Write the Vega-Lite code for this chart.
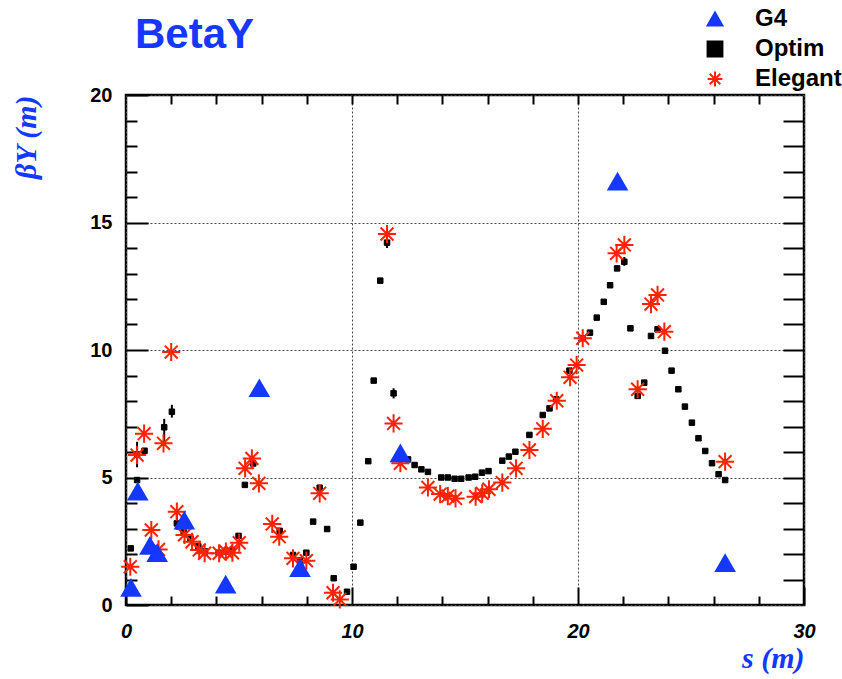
{
  "$schema": "https://vega.github.io/schema/vega-lite/v6.json",
  "autosize": {"type": "none"},
  "padding": {"left": 126, "top": 95, "right": 38, "bottom": 74},
  "width": 678,
  "height": 510,
  "background": "white",
  "title": {"text": "BetaY", "anchor": "start", "frame": "group", "font": "Liberation Sans", "fontWeight": "bold", "fontSize": 42, "color": "#1438ff", "offset": -50, "dx": 9},
  "config": {
    "view": {"stroke": "black", "strokeWidth": 2.5},
    "axis": {"domain": false, "tickColor": "black", "tickWidth": 2, "gridColor": "#444444", "gridDash": [2, 2], "gridWidth": 1, "labelColor": "black", "labelFont": "Liberation Sans", "labelFontWeight": "bold", "labelFontSize": 20, "labelFlush": false, "titleFont": "Liberation Serif", "titleFontStyle": "italic", "titleFontWeight": "bold", "titleFontSize": 30, "titleColor": "#1438ff"}
  },
  "datasets": {
    "optim": [
      {"series": "Optim", "s": 0.21, "b": 2.22},
      {"series": "Optim", "s": 0.49, "b": 4.90},
      {"series": "Optim", "s": 0.49, "b": 5.90},
      {"series": "Optim", "s": 0.82, "b": 6.05},
      {"series": "Optim", "s": 1.69, "b": 6.97},
      {"series": "Optim", "s": 2.03, "b": 7.58},
      {"series": "Optim", "s": 2.25, "b": 3.20},
      {"series": "Optim", "s": 2.55, "b": 2.85},
      {"series": "Optim", "s": 2.85, "b": 2.60},
      {"series": "Optim", "s": 3.20, "b": 2.30},
      {"series": "Optim", "s": 3.50, "b": 2.10},
      {"series": "Optim", "s": 4.10, "b": 2.05},
      {"series": "Optim", "s": 4.40, "b": 2.10},
      {"series": "Optim", "s": 4.70, "b": 2.15},
      {"series": "Optim", "s": 4.98, "b": 2.71},
      {"series": "Optim", "s": 5.26, "b": 4.71},
      {"series": "Optim", "s": 5.63, "b": 5.55},
      {"series": "Optim", "s": 6.80, "b": 2.91},
      {"series": "Optim", "s": 7.39, "b": 1.96},
      {"series": "Optim", "s": 7.69, "b": 1.76},
      {"series": "Optim", "s": 7.98, "b": 2.05},
      {"series": "Optim", "s": 8.28, "b": 3.27},
      {"series": "Optim", "s": 8.57, "b": 4.60},
      {"series": "Optim", "s": 8.90, "b": 2.98},
      {"series": "Optim", "s": 9.19, "b": 1.05},
      {"series": "Optim", "s": 9.78, "b": 0.52},
      {"series": "Optim", "s": 10.07, "b": 1.50},
      {"series": "Optim", "s": 10.37, "b": 3.23},
      {"series": "Optim", "s": 10.72, "b": 5.64},
      {"series": "Optim", "s": 10.96, "b": 8.80},
      {"series": "Optim", "s": 11.25, "b": 12.72},
      {"series": "Optim", "s": 11.55, "b": 14.21},
      {"series": "Optim", "s": 11.84, "b": 8.30},
      {"series": "Optim", "s": 12.48, "b": 5.71},
      {"series": "Optim", "s": 12.77, "b": 5.49},
      {"series": "Optim", "s": 13.07, "b": 5.32},
      {"series": "Optim", "s": 13.36, "b": 5.22},
      {"series": "Optim", "s": 13.95, "b": 5.00},
      {"series": "Optim", "s": 14.24, "b": 5.00},
      {"series": "Optim", "s": 14.54, "b": 4.95},
      {"series": "Optim", "s": 14.83, "b": 4.95},
      {"series": "Optim", "s": 15.16, "b": 5.00},
      {"series": "Optim", "s": 15.45, "b": 5.03},
      {"series": "Optim", "s": 15.75, "b": 5.19},
      {"series": "Optim", "s": 16.04, "b": 5.25},
      {"series": "Optim", "s": 16.65, "b": 5.66},
      {"series": "Optim", "s": 16.94, "b": 5.82},
      {"series": "Optim", "s": 17.23, "b": 6.01},
      {"series": "Optim", "s": 17.85, "b": 6.67},
      {"series": "Optim", "s": 18.44, "b": 7.45},
      {"series": "Optim", "s": 18.74, "b": 7.71},
      {"series": "Optim", "s": 19.03, "b": 8.07},
      {"series": "Optim", "s": 19.62, "b": 9.19},
      {"series": "Optim", "s": 20.21, "b": 10.46},
      {"series": "Optim", "s": 20.53, "b": 10.68},
      {"series": "Optim", "s": 20.83, "b": 11.27},
      {"series": "Optim", "s": 21.14, "b": 11.89},
      {"series": "Optim", "s": 21.42, "b": 12.54},
      {"series": "Optim", "s": 21.73, "b": 13.20},
      {"series": "Optim", "s": 22.05, "b": 13.46},
      {"series": "Optim", "s": 22.32, "b": 10.85},
      {"series": "Optim", "s": 22.64, "b": 8.20},
      {"series": "Optim", "s": 22.93, "b": 8.72},
      {"series": "Optim", "s": 23.23, "b": 10.55},
      {"series": "Optim", "s": 23.52, "b": 10.81},
      {"series": "Optim", "s": 23.85, "b": 9.97},
      {"series": "Optim", "s": 24.14, "b": 9.19},
      {"series": "Optim", "s": 24.44, "b": 8.46},
      {"series": "Optim", "s": 24.73, "b": 7.78},
      {"series": "Optim", "s": 25.04, "b": 7.15},
      {"series": "Optim", "s": 25.33, "b": 6.54},
      {"series": "Optim", "s": 25.63, "b": 6.04},
      {"series": "Optim", "s": 25.93, "b": 5.56},
      {"series": "Optim", "s": 26.22, "b": 5.13},
      {"series": "Optim", "s": 26.51, "b": 4.90}
    ],
    "others": [
      {"series": "Elegant", "s": 0.19, "b": 1.50},
      {"series": "Elegant", "s": 0.49, "b": 5.88},
      {"series": "Elegant", "s": 0.80, "b": 6.72},
      {"series": "Elegant", "s": 1.12, "b": 2.94},
      {"series": "Elegant", "s": 1.44, "b": 2.18},
      {"series": "Elegant", "s": 1.66, "b": 6.34},
      {"series": "Elegant", "s": 2.00, "b": 9.92},
      {"series": "Elegant", "s": 2.25, "b": 3.66},
      {"series": "Elegant", "s": 2.59, "b": 2.75},
      {"series": "Elegant", "s": 2.92, "b": 2.48},
      {"series": "Elegant", "s": 3.24, "b": 2.16},
      {"series": "Elegant", "s": 3.48, "b": 2.03},
      {"series": "Elegant", "s": 4.12, "b": 2.03},
      {"series": "Elegant", "s": 4.42, "b": 2.09},
      {"series": "Elegant", "s": 4.71, "b": 2.05},
      {"series": "Elegant", "s": 5.01, "b": 2.44},
      {"series": "Elegant", "s": 5.27, "b": 5.36},
      {"series": "Elegant", "s": 5.57, "b": 5.75},
      {"series": "Elegant", "s": 5.88, "b": 4.77},
      {"series": "Elegant", "s": 6.47, "b": 3.18},
      {"series": "Elegant", "s": 6.78, "b": 2.68},
      {"series": "Elegant", "s": 7.39, "b": 1.83},
      {"series": "Elegant", "s": 7.98, "b": 1.74},
      {"series": "Elegant", "s": 8.57, "b": 4.38},
      {"series": "Elegant", "s": 9.16, "b": 0.48},
      {"series": "Elegant", "s": 9.46, "b": 0.22},
      {"series": "Elegant", "s": 11.55, "b": 14.55},
      {"series": "Elegant", "s": 11.84, "b": 7.12},
      {"series": "Elegant", "s": 12.14, "b": 5.56},
      {"series": "Elegant", "s": 13.36, "b": 4.61},
      {"series": "Elegant", "s": 13.90, "b": 4.35},
      {"series": "Elegant", "s": 14.24, "b": 4.27},
      {"series": "Elegant", "s": 14.58, "b": 4.18},
      {"series": "Elegant", "s": 15.47, "b": 4.25},
      {"series": "Elegant", "s": 15.76, "b": 4.38},
      {"series": "Elegant", "s": 16.06, "b": 4.54},
      {"series": "Elegant", "s": 16.65, "b": 4.80},
      {"series": "Elegant", "s": 17.26, "b": 5.36},
      {"series": "Elegant", "s": 17.85, "b": 6.08},
      {"series": "Elegant", "s": 18.44, "b": 6.91},
      {"series": "Elegant", "s": 19.06, "b": 8.01},
      {"series": "Elegant", "s": 19.65, "b": 8.93},
      {"series": "Elegant", "s": 19.94, "b": 9.41},
      {"series": "Elegant", "s": 20.21, "b": 10.46},
      {"series": "Elegant", "s": 21.71, "b": 13.79},
      {"series": "Elegant", "s": 22.05, "b": 14.12},
      {"series": "Elegant", "s": 22.64, "b": 8.46},
      {"series": "Elegant", "s": 23.23, "b": 11.80},
      {"series": "Elegant", "s": 23.52, "b": 12.16},
      {"series": "Elegant", "s": 23.82, "b": 10.72},
      {"series": "Elegant", "s": 26.51, "b": 5.62},
      {"series": "G4", "s": 0.22, "b": 0.67},
      {"series": "G4", "s": 0.52, "b": 4.45},
      {"series": "G4", "s": 1.06, "b": 2.32},
      {"series": "G4", "s": 1.38, "b": 2.03},
      {"series": "G4", "s": 2.58, "b": 3.31},
      {"series": "G4", "s": 4.41, "b": 0.80},
      {"series": "G4", "s": 5.90, "b": 8.50},
      {"series": "G4", "s": 7.70, "b": 1.45},
      {"series": "G4", "s": 12.14, "b": 5.95},
      {"series": "G4", "s": 21.75, "b": 16.60},
      {"series": "G4", "s": 26.51, "b": 1.64}
    ],
    "err": [
      {"s": 0.49, "lo": 5.40, "hi": 6.40},
      {"s": 1.69, "lo": 6.30, "hi": 7.30},
      {"s": 2.03, "lo": 7.35, "hi": 7.85},
      {"s": 2.25, "lo": 2.95, "hi": 3.75},
      {"s": 11.55, "lo": 14.00, "hi": 14.45},
      {"s": 11.84, "lo": 8.10, "hi": 8.50},
      {"s": 22.05, "lo": 13.30, "hi": 13.65}
    ]
  },
  "layer": [
    {
      "data": {"name": "err"},
      "mark": {"type": "rule", "color": "black", "strokeWidth": 2},
      "encoding": {
        "x": {"field": "s", "type": "quantitative", "scale": {"domain": [0, 30], "nice": false, "zero": false},
          "axis": {"orient": "bottom", "values": [0, 10, 20, 30], "grid": true, "tickSize": -18, "labelPadding": 34, "labelFontStyle": "italic", "title": "s (m)", "titleAnchor": "end", "titlePadding": 2}},
        "y": {"field": "lo", "type": "quantitative", "scale": {"domain": [0, 20], "nice": false, "zero": false},
          "axis": {"orient": "left", "values": [0, 5, 10, 15, 20], "grid": true, "tickSize": -22, "labelPadding": 36, "title": "βY (m)", "titleAnchor": "end", "titlePadding": 48}},
        "y2": {"field": "hi"}
      }
    },
    {
      "data": {"name": "optim"},
      "mark": {"type": "point", "filled": true, "strokeWidth": 1, "size": 30, "opacity": 1},
      "encoding": {
        "x": {"field": "s", "type": "quantitative",
          "axis": {"orient": "bottom", "values": [2, 4, 6, 8, 12, 14, 16, 18, 22, 24, 26, 28], "grid": false, "labels": false, "tickSize": -9, "title": null}},
        "y": {"field": "b", "type": "quantitative",
          "axis": {"orient": "left", "values": [1, 2, 3, 4, 6, 7, 8, 9, 11, 12, 13, 14, 16, 17, 18, 19], "grid": false, "labels": false, "tickSize": -11, "title": null}},
        "shape": {"field": "series", "type": "nominal", "scale": {"domain": ["G4", "Optim", "Elegant"], "range": ["triangle-up", "square", "M0,-1L0,1M-1,0L1,0M-0.71,-0.71L0.71,0.71M-0.71,0.71L0.71,-0.71"]}},
        "fill": {"field": "series", "type": "nominal", "scale": {"domain": ["G4", "Optim", "Elegant"], "range": ["#1438ff", "black", "#ff2200"]}},
        "stroke": {"field": "series", "type": "nominal", "scale": {"domain": ["G4", "Optim", "Elegant"], "range": ["#1438ff", "black", "#ff2200"]}}
      }
    },
    {
      "data": {"name": "others"},
      "mark": {"type": "point", "filled": true, "strokeWidth": 2, "size": 330, "opacity": 1},
      "encoding": {
        "x": {"field": "s", "type": "quantitative",
          "axis": {"orient": "top", "values": [2, 4, 6, 8, 10, 12, 14, 16, 18, 20, 22, 24, 26, 28], "grid": false, "labels": false, "tickSize": -9, "title": null}},
        "y": {"field": "b", "type": "quantitative",
          "axis": {"orient": "right", "values": [1, 2, 3, 4, 5, 6, 7, 8, 9, 10, 11, 12, 13, 14, 15, 16, 17, 18, 19], "grid": false, "labels": false, "tickSize": -21, "title": null}},
        "shape": {"field": "series", "type": "nominal", "scale": {"domain": ["G4", "Optim", "Elegant"], "range": ["triangle-up", "square", "M0,-1L0,1M-1,0L1,0M-0.71,-0.71L0.71,0.71M-0.71,0.71L0.71,-0.71"]},
          "legend": {"orient": "none", "legendX": 577, "legendY": -88, "title": null, "labelFont": "Liberation Sans", "labelFontWeight": "bold", "labelFontSize": 24, "labelColor": "black", "symbolSize": 220, "symbolStrokeWidth": 2, "symbolOpacity": 1, "rowPadding": 6, "labelOffset": 28, "padding": 0}},
        "fill": {"field": "series", "type": "nominal", "scale": {"domain": ["G4", "Optim", "Elegant"], "range": ["#1438ff", "black", "#ff2200"]}},
        "stroke": {"field": "series", "type": "nominal", "scale": {"domain": ["G4", "Optim", "Elegant"], "range": ["#1438ff", "black", "#ff2200"]}}
      }
    }
  ],
  "resolve": {"axis": {"x": "independent", "y": "independent"}}
}
